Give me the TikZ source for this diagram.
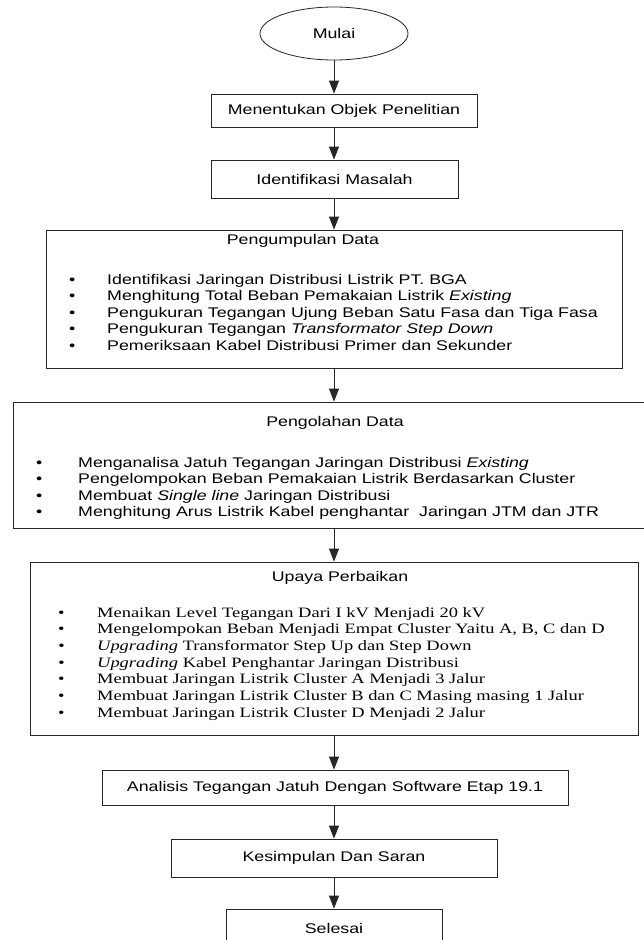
\documentclass[tikz,border=0pt]{standalone}
\usepackage{fontspec}
\setmainfont{Liberation Sans}[FakeStretch=1.27]
\newfontfamily\timesfont{Liberation Serif}[FakeStretch=1.29]
\usetikzlibrary{arrows.meta,shapes.geometric}
\frenchspacing

\tikzset{
	box/.style={draw=black!85, line width=0.8pt, rectangle, inner sep=0pt, font=\fontsize{14}{16.6}\selectfont},
	flow/.style={draw=black!85, line width=0.8pt, -{Triangle[width=10pt,length=13pt]}},
	lbl/.style={inner sep=0pt, font=\fontsize{14}{16.6}\selectfont},
}
\newcommand{\itm}[2]{\makebox[#1][l]{\textbullet}#2}

\begin{document}
\begin{tikzpicture}[x=1pt, y=-1pt]
			
			\useasboundingbox (0,0) rectangle (644,940);
			\clip (0,0) rectangle (644,940);
			\fill[white] (0,0) rectangle (644,940);
			
			\node[box, ellipse, minimum width=148pt, minimum height=53pt] (mulai) at (334,33.5) {Mulai};
			\node[box, minimum width=266pt, minimum height=33pt] (objek) at (344,110.5) {Menentukan Objek Penelitian};
			\node[box, minimum width=247pt, minimum height=38pt] (masalah) at (334.5,179) {Identifikasi Masalah};
			
			\node[box, minimum width=576pt, minimum height=138pt] (kumpul) at (334,299) {};
			\node[lbl] (kumpulT) at (303,241) {Pengumpulan Data};
			\node[lbl, anchor=base west] (kumpulL) at (69,284) {\begin{tabular}[t]{@{}l@{}}
				\itm{38pt}{Identifikasi Jaringan Distribusi Listrik PT. BGA}\\
				\itm{38pt}{Menghitung Total Beban Pemakaian Listrik \textit{Existing}}\\
				\itm{38pt}{Pengukuran Tegangan Ujung Beban Satu Fasa dan Tiga Fasa}\\
				\itm{38pt}{Pengukuran Tegangan \textit{Transformator Step Down}}\\
				\itm{38pt}{Pemeriksaan Kabel Distribusi Primer dan Sekunder}
			\end{tabular}};
			
			\node[box, minimum width=642pt, minimum height=126pt] (olah) at (334,465) {};
			\node[lbl] (olahT) at (335,423) {Pengolahan Data};
			\node[lbl, anchor=base west] (olahL) at (36,467) {\begin{tabular}[t]{@{}l@{}}
				\itm{42pt}{Menganalisa Jatuh Tegangan Jaringan Distribusi \textit{Existing}}\\
				\itm{42pt}{Pengelompokan Beban Pemakaian Listrik Berdasarkan Cluster}\\
				\itm{42pt}{Membuat \textit{Single line} Jaringan Distribusi}\\
				\itm{42pt}{Menghitung Arus Listrik Kabel penghantar\ \ Jaringan JTM dan JTR}
			\end{tabular}};
			
			\node[box, minimum width=608pt, minimum height=173pt] (upaya) at (334,648.5) {};
			\node[lbl] (upayaT) at (340,578) {Upaya Perbaikan};
			\node[lbl, anchor=base west, font=\timesfont\fontsize{14.3}{16.7}\selectfont] (upayaL) at (58,617) {\begin{tabular}[t]{@{}l@{}}
				\itm{39pt}{Menaikan Level Tegangan Dari I kV Menjadi 20 kV}\\
				\itm{39pt}{Mengelompokan Beban Menjadi Empat Cluster Yaitu A, B, C dan D}\\
				\makebox[39pt][l]{\textit{\textbullet}}\textit{Upgrading} Transformator Step Up dan Step Down\\
				\makebox[39pt][l]{\textit{\textbullet}}\textit{Upgrading} Kabel Penghantar Jaringan Distribusi\\
				\itm{39pt}{Membuat Jaringan Listrik Cluster A Menjadi 3 Jalur}\\
				\itm{39pt}{Membuat Jaringan Listrik Cluster B dan C Masing masing 1 Jalur}\\
				\itm{39pt}{Membuat Jaringan Listrik Cluster D Menjadi 2 Jalur}
			\end{tabular}};
			
			\node[box, minimum width=466pt, minimum height=35pt] (analisis) at (335,787.5) {Analisis Tegangan Jatuh Dengan Software Etap 19.1};
			\node[box, minimum width=326pt, minimum height=38pt] (simpul) at (334,858) {Kesimpulan Dan Saran};
			\node[box, minimum width=216pt, minimum height=38pt] (selesai) at (334,928) {Selesai};
			
			\draw[flow] (mulai.south) -- (mulai.south |- objek.north);
			\draw[flow] (mulai.south |- objek.south) -- (mulai.south |- masalah.north);
			\draw[flow] (mulai.south |- masalah.south) -- (mulai.south |- kumpul.north);
			\draw[flow] (kumpul.south) -- (olah.north);
			\draw[flow] (olah.south) -- (upaya.north);
			\draw[flow] (upaya.south) -- (upaya.south |- analisis.north);
			\draw[flow] (upaya.south |- analisis.south) -- (simpul.north);
			\draw[flow] (simpul.south) -- (selesai.north);
			
		\end{tikzpicture}
\end{document}
